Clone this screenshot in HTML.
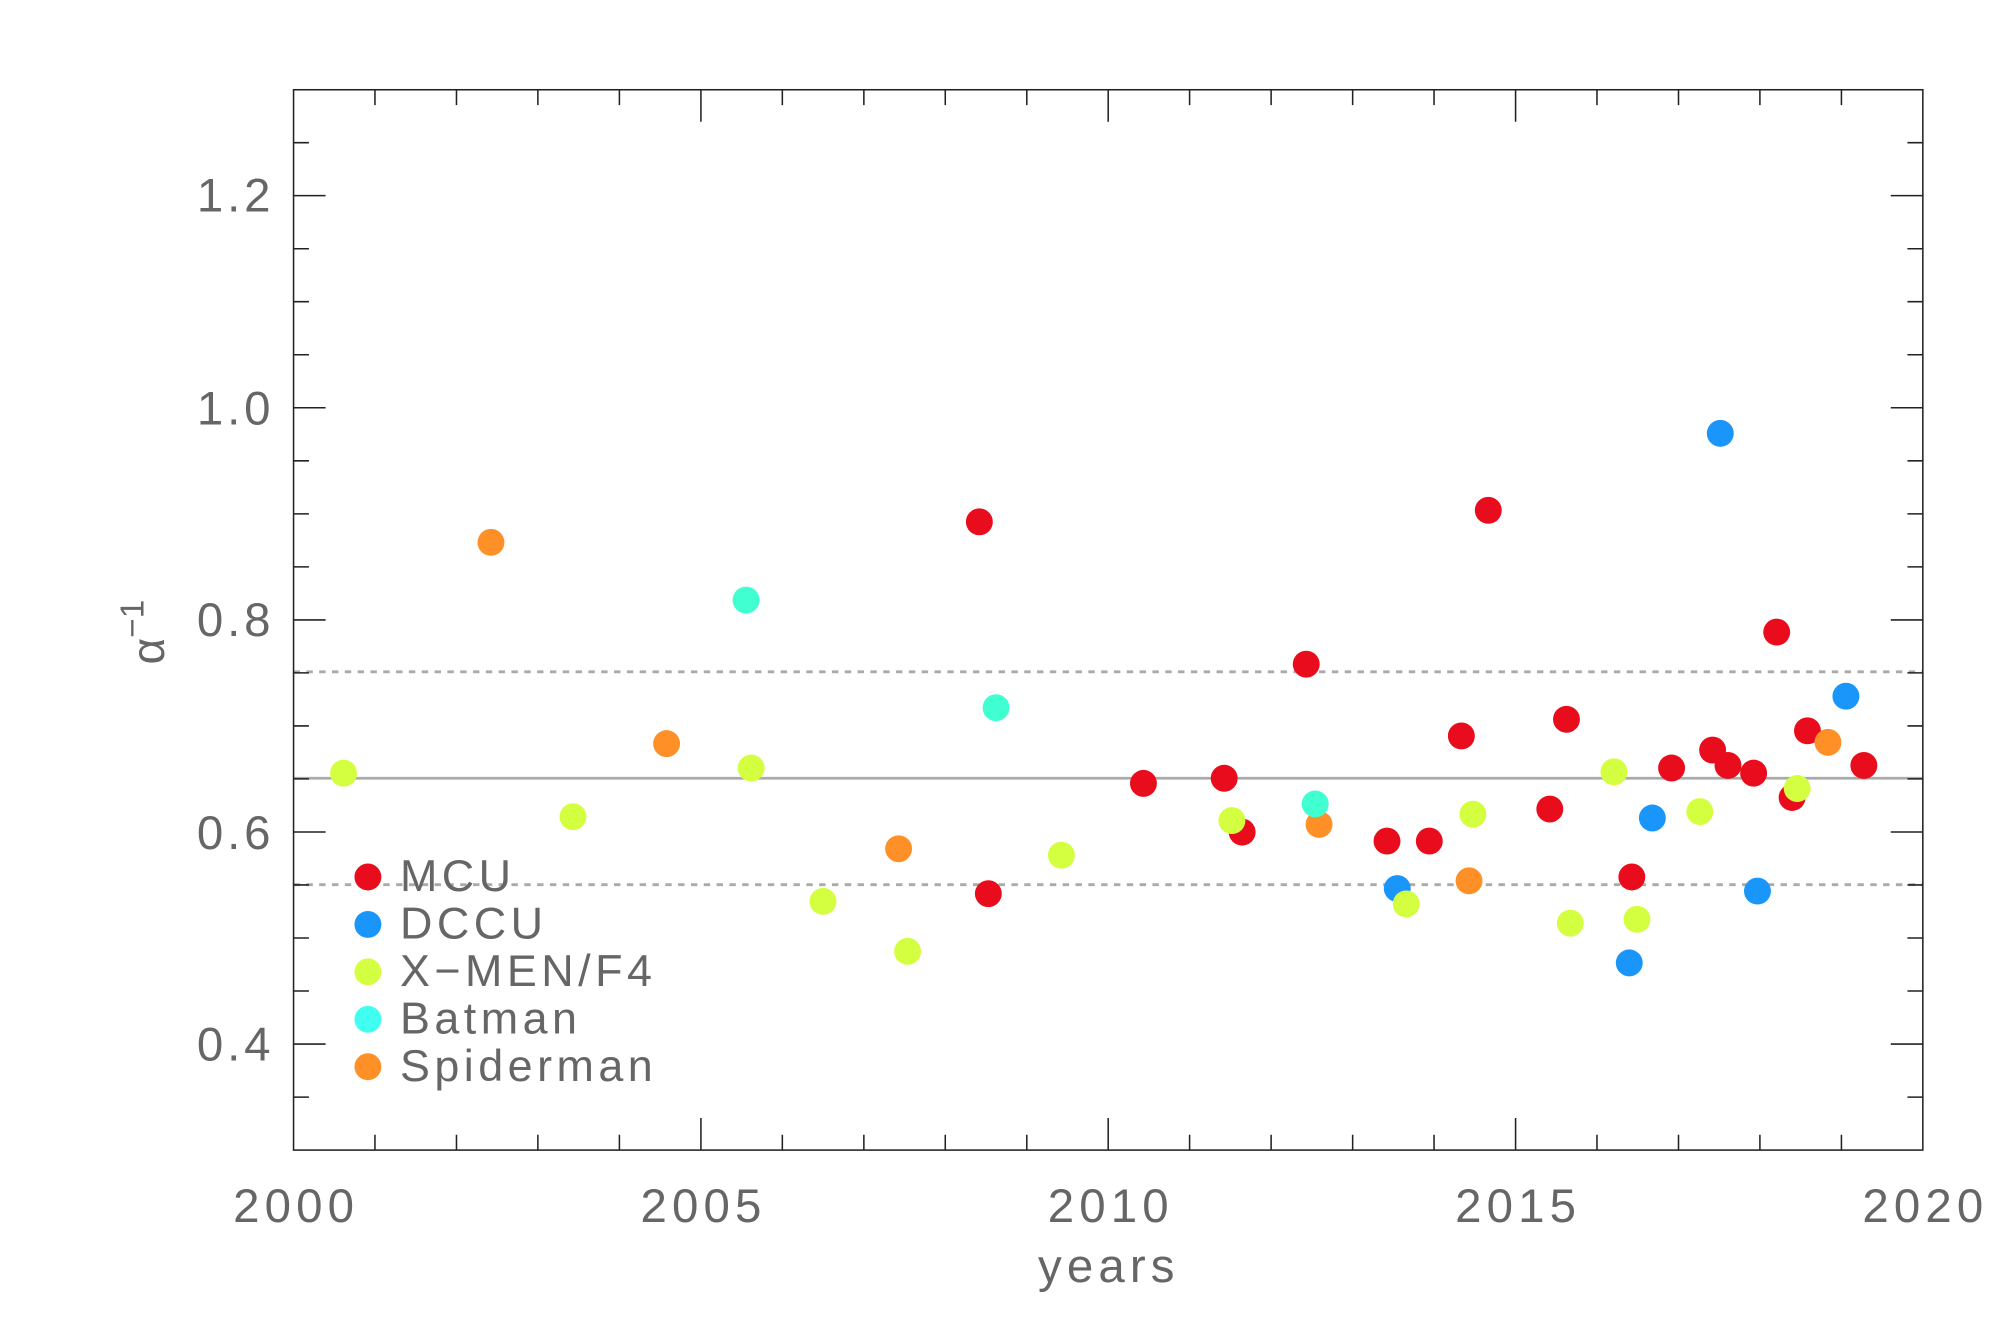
<!DOCTYPE html>
<html><head><meta charset="utf-8"><style>html,body{margin:0;padding:0;background:#fff}svg{display:block}</style></head>
<body>
<svg width="2010" height="1336" viewBox="0 0 1568 1042" preserveAspectRatio="none" xmlns="http://www.w3.org/2000/svg" font-family="Liberation Sans, sans-serif">
<rect width="1568" height="1042" fill="#fff"/>
<g stroke="#aaa" stroke-width="2.2">
<line x1="229" y1="607" x2="1500" y2="607"/>
<line x1="229" y1="524" x2="1500" y2="524" stroke-dasharray="5,5"/>
<line x1="229" y1="690" x2="1500" y2="690" stroke-dasharray="5,5"/>
</g>
<g stroke="#222" stroke-width="1.2" fill="none">
<rect x="229" y="70" width="1271" height="827"/>
<path d="M292.5 897v-12M356.1 897v-12M419.6 897v-12M483.2 897v-12M546.8 897v-25M610.3 897v-12M673.9 897v-12M737.4 897v-12M801 897v-12M864.5 897v-25M928 897v-12M991.6 897v-12M1055.2 897v-12M1118.7 897v-12M1182.3 897v-25M1245.8 897v-12M1309.4 897v-12M1372.9 897v-12M1436.5 897v-12"/>
<path d="M292.5 70v12M356.1 70v12M419.6 70v12M483.2 70v12M546.8 70v25M610.3 70v12M673.9 70v12M737.4 70v12M801 70v12M864.5 70v25M928 70v12M991.6 70v12M1055.2 70v12M1118.7 70v12M1182.3 70v25M1245.8 70v12M1309.4 70v12M1372.9 70v12M1436.5 70v12"/>
<path d="M229 855.7h12M229 814.3h25M229 772.9h12M229 731.6h12M229 690.2h12M229 648.9h25M229 607.5h12M229 566.2h12M229 524.8h12M229 483.5h25M229 442.1h12M229 400.8h12M229 359.4h12M229 318h25M229 276.7h12M229 235.3h12M229 194h12M229 152.6h25M229 111.3h12"/>
<path d="M1500 855.7h-12M1500 814.3h-25M1500 772.9h-12M1500 731.6h-12M1500 690.2h-12M1500 648.9h-25M1500 607.5h-12M1500 566.2h-12M1500 524.8h-12M1500 483.5h-25M1500 442.1h-12M1500 400.8h-12M1500 359.4h-12M1500 318h-25M1500 276.7h-12M1500 235.3h-12M1500 194h-12M1500 152.6h-25M1500 111.3h-12"/>
</g>
<g fill="#666" font-size="37" text-anchor="end" letter-spacing="3">
<text x="214" y="827">0.4</text><text x="214" y="662">0.6</text><text x="214" y="496">0.8</text><text x="214" y="331">1.0</text><text x="214" y="165">1.2</text>
</g>
<g fill="#666" font-size="37" text-anchor="middle" letter-spacing="4">
<text x="231" y="953">2000</text><text x="548.8" y="953">2005</text><text x="866.5" y="953">2010</text><text x="1184.3" y="953">2015</text><text x="1502" y="953">2020</text>
<text x="865" y="1000">years</text>
</g>
<text transform="translate(128,493) rotate(-90)" fill="#666" font-size="36" text-anchor="middle">α<tspan font-size="26" dy="-16">−1</tspan></text>
<g fill="#e80c1c">
<circle cx="764" cy="407" r="10.5"/><circle cx="771" cy="697" r="10.5"/><circle cx="892" cy="611" r="10.5"/><circle cx="955" cy="607" r="10.5"/><circle cx="969" cy="649" r="10.5"/><circle cx="1019" cy="518" r="10.5"/><circle cx="1082" cy="656" r="10.5"/><circle cx="1115" cy="656" r="10.5"/><circle cx="1140" cy="574" r="10.5"/><circle cx="1161" cy="398" r="10.5"/><circle cx="1209" cy="631" r="10.5"/><circle cx="1222" cy="561" r="10.5"/><circle cx="1273" cy="684" r="10.5"/><circle cx="1304" cy="599" r="10.5"/><circle cx="1336" cy="585" r="10.5"/><circle cx="1348" cy="597" r="10.5"/><circle cx="1368" cy="603" r="10.5"/><circle cx="1386" cy="493" r="10.5"/><circle cx="1398" cy="622" r="10.5"/><circle cx="1410" cy="570" r="10.5"/><circle cx="1454" cy="597" r="10.5"/>
<circle cx="287" cy="684" r="10.5"/>
</g>
<g fill="#1a96fa">
<circle cx="1090" cy="693" r="10.5"/><circle cx="1271" cy="751" r="10.5"/><circle cx="1289" cy="638" r="10.5"/><circle cx="1342" cy="338" r="10.5"/><circle cx="1371" cy="695" r="10.5"/><circle cx="1440" cy="543" r="10.5"/>
<circle cx="287" cy="721" r="10.5"/>
</g>
<g fill="#ff9028">
<circle cx="383" cy="423" r="10.5"/><circle cx="520" cy="580" r="10.5"/><circle cx="701" cy="662" r="10.5"/><circle cx="1029" cy="643" r="10.5"/><circle cx="1146" cy="687" r="10.5"/><circle cx="1426" cy="579" r="10.5"/>
<circle cx="287" cy="832" r="10.5"/>
</g>
<g fill="#d4ff40">
<circle cx="268" cy="603" r="10.5"/><circle cx="447" cy="637" r="10.5"/><circle cx="586" cy="599" r="10.5"/><circle cx="642" cy="703" r="10.5"/><circle cx="708" cy="742" r="10.5"/><circle cx="828" cy="667" r="10.5"/><circle cx="961" cy="640" r="10.5"/><circle cx="1097" cy="705" r="10.5"/><circle cx="1149" cy="635" r="10.5"/><circle cx="1225" cy="720" r="10.5"/><circle cx="1259" cy="602" r="10.5"/><circle cx="1277" cy="717" r="10.5"/><circle cx="1326" cy="633" r="10.5"/><circle cx="1402" cy="615" r="10.5"/>
<circle cx="287" cy="758" r="10.5"/>
</g>
<g fill="#40ffd0">
<circle cx="582" cy="468" r="10.5"/><circle cx="777" cy="552" r="10.5"/><circle cx="1026" cy="627" r="10.5"/>
<circle cx="287" cy="795" r="10.5" fill="#40fff0"/>
</g>
<g fill="#666" font-size="35" letter-spacing="3.5">
<text x="312" y="695">MCU</text><text x="312" y="732">DCCU</text><text x="312" y="769">X−MEN/F4</text><text x="312" y="806">Batman</text><text x="312" y="843">Spiderman</text>
</g>
</svg>
</body></html>
